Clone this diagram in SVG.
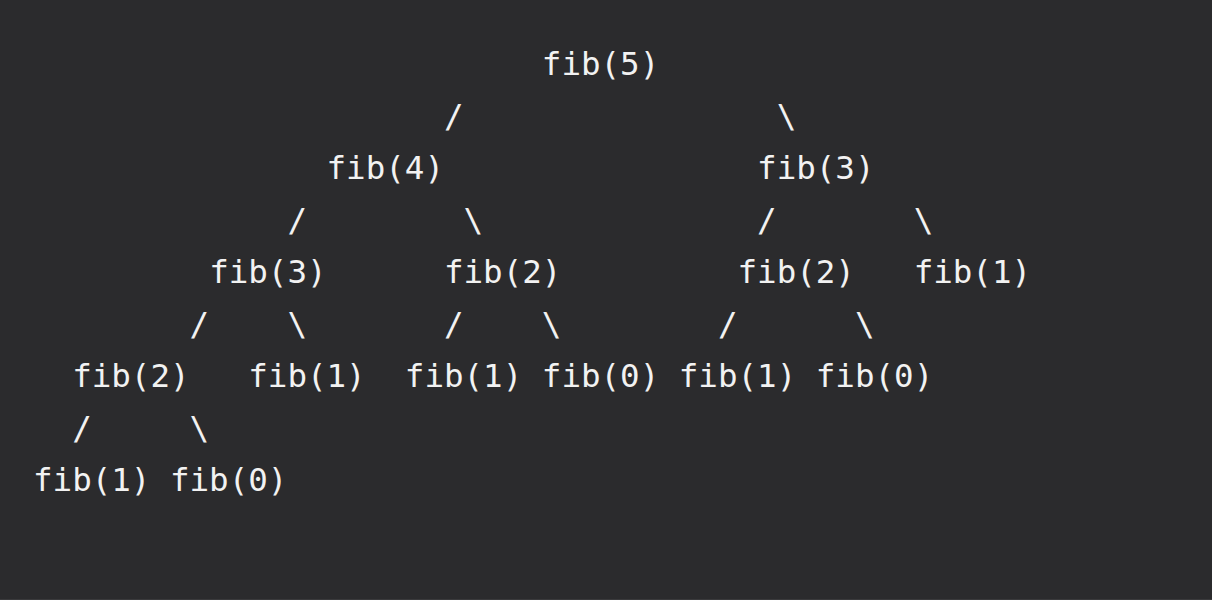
<svg xmlns="http://www.w3.org/2000/svg" width="1212" height="600" viewBox="0 0 1212 600">
<style>
text{font-family:"DejaVu Sans Mono","Liberation Mono",monospace;font-size:32.5px;fill:#f2f2f2}
</style>
<rect x="0" y="0" width="1212" height="600" fill="#2b2b2d"/>
<line x1="0" y1="599.5" x2="1212" y2="599.5" stroke="#3a3a3c" stroke-width="1"/>
<g id="connectors">
<text x="443.97" y="126.5">/</text><text x="776.66" y="126.5">\</text>
<text x="287.41" y="230.5">/</text><text x="463.54" y="230.5">\</text><text x="757.09" y="230.5">/</text><text x="913.65" y="230.5">\</text>
<text x="189.56" y="334.5">/</text><text x="287.41" y="334.5">\</text><text x="443.97" y="334.5">/</text><text x="541.82" y="334.5">\</text><text x="717.95" y="334.5">/</text><text x="854.94" y="334.5">\</text>
<text x="72.14" y="438.5">/</text><text x="189.56" y="438.5">\</text>
</g>
<g id="n-fib5"><text x="541.82" y="74.5">fib(5)</text></g>
<g id="n-fib4"><text x="326.55" y="178.5">fib(4)</text></g>
<g id="n-fib3-r"><text x="757.09" y="178.5">fib(3)</text></g>
<g id="n-fib3-l"><text x="209.13" y="282.5">fib(3)</text></g>
<g id="n-fib2-a"><text x="443.97" y="282.5">fib(2)</text></g>
<g id="n-fib2-b"><text x="737.52" y="282.5">fib(2)</text></g>
<g id="n-fib1-a"><text x="913.65" y="282.5">fib(1)</text></g>
<g id="n-fib2-c"><text x="72.14" y="386.5">fib(2)</text></g>
<g id="n-fib1-b"><text x="248.27" y="386.5">fib(1)</text></g>
<g id="n-fib1-c"><text x="404.83" y="386.5">fib(1)</text></g>
<g id="n-fib0-a"><text x="541.82" y="386.5">fib(0)</text></g>
<g id="n-fib1-d"><text x="678.81" y="386.5">fib(1)</text></g>
<g id="n-fib0-b"><text x="815.8" y="386.5">fib(0)</text></g>
<g id="n-fib1-e"><text x="33" y="490.5">fib(1)</text></g>
<g id="n-fib0-c"><text x="169.99" y="490.5">fib(0)</text></g>
</svg>
